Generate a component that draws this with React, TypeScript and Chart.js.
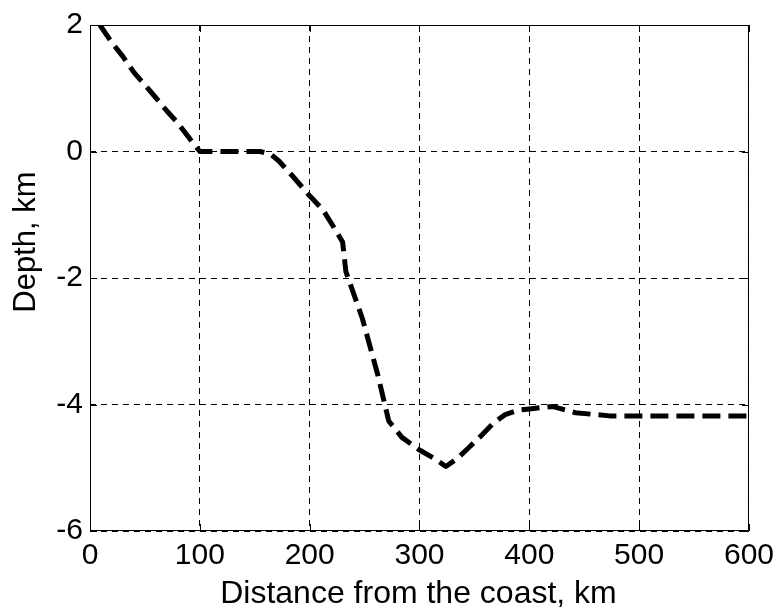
import React, { useEffect, useRef } from "react";
import { Chart, registerables } from "chart.js";

Chart.register(...registerables);

const distanceKm = [9, 20, 30, 40, 50, 60, 70, 80, 90, 100, 155, 165, 172, 184, 200, 212, 221, 230, 233, 248, 262, 272, 284, 300, 314, 324, 334, 345, 357, 367, 378, 390, 400, 421, 442, 473, 600];
const depthKm = [2, 1.72, 1.5, 1.25, 1.05, 0.85, 0.64, 0.45, 0.22, 0, 0, -0.05, -0.15, -0.38, -0.7, -0.92, -1.17, -1.43, -1.9, -2.64, -3.53, -4.26, -4.52, -4.72, -4.86, -4.98, -4.86, -4.68, -4.48, -4.3, -4.16, -4.09, -4.07, -4.03, -4.13, -4.18, -4.18];

const xTicks = [0, 100, 200, 300, 400, 500, 600];
const yTicks = [2, 0, -2, -4, -6];

const xTitle = "Distance from the coast, km";
const yTitle = "Depth, km";

const FONT = "'Liberation Sans', Arial, Helvetica, sans-serif";

const framePlugin = {
  id: "matlabFrame",
  afterDraw(chart: any) {
    const { ctx, chartArea } = chart;
    const { left, right, top, bottom } = chartArea;
    const xs = chart.scales.x;
    const ys = chart.scales.y;
    ctx.save();
    ctx.setLineDash([]);
    ctx.strokeStyle = "#000";
    ctx.lineWidth = 1;
    ctx.beginPath();
    ctx.rect(left + 0.5, top + 0.5, right - left - 1, bottom - top - 1);
    ctx.stroke();
    const tl = 7;
    ctx.beginPath();
    for (const v of xTicks) {
      const px = Math.round(xs.getPixelForValue(v)) + 0.5;
      ctx.moveTo(px, bottom);
      ctx.lineTo(px, bottom - tl);
      ctx.moveTo(px, top);
      ctx.lineTo(px, top + tl);
    }
    for (const v of yTicks) {
      const py = Math.round(ys.getPixelForValue(v)) + 0.5;
      ctx.moveTo(left, py);
      ctx.lineTo(left + tl, py);
      ctx.moveTo(right, py);
      ctx.lineTo(right - tl, py);
    }
    ctx.stroke();

    ctx.fillStyle = "#000";
    ctx.textAlign = "center";
    ctx.textBaseline = "alphabetic";
    ctx.font = `32px ${FONT}`;
    ctx.fillText(xTitle, (left + right) / 2 - 1, 603);

    ctx.translate(35, 242);
    ctx.rotate(-Math.PI / 2);
    ctx.font = `31px ${FONT}`;
    ctx.fillText(yTitle, 0, 0);
    ctx.restore();
  },
};

export default function App() {
  const ref = useRef<HTMLCanvasElement | null>(null);

  useEffect(() => {
    if (!ref.current) return;
    const points = distanceKm.map((d, i) => ({ x: d, y: depthKm[i] }));
    const chart = new Chart(ref.current, {
      type: "line",
      data: {
        datasets: [
          {
            data: points,
            borderColor: "#000",
            borderWidth: 5,
            borderDash: [18, 8],
            borderCapStyle: "butt",
            borderJoinStyle: "round",
            pointRadius: 0,
            fill: false,
            tension: 0,
          },
        ],
      },
      options: {
        animation: false,
        responsive: false,
        maintainAspectRatio: false,
        events: [],
        layout: { padding: { left: 0, top: 23, right: 30, bottom: 0 } },
        plugins: {
          legend: { display: false },
          tooltip: { enabled: false },
          title: { display: false },
        },
        scales: {
          x: {
            type: "linear",
            min: 0,
            max: 600,
            afterBuildTicks: (s: any) => {
              s.ticks = xTicks.map((v) => ({ value: v }));
            },
            afterFit: (s: any) => {
              s.height = 78;
            },
            ticks: {
              color: "#000",
              font: { family: FONT, size: 30 },
              padding: 7,
              maxRotation: 0,
              autoSkip: false,
            },
            grid: {
              color: "#000",
              lineWidth: 1,
              drawTicks: false,
            },
            border: { display: false, dash: [6, 5] },
          },
          y: {
            type: "linear",
            min: -6,
            max: 2,
            afterBuildTicks: (s: any) => {
              s.ticks = yTicks.map((v) => ({ value: v }));
            },
            afterFit: (s: any) => {
              s.width = 90;
            },
            ticks: {
              color: "#000",
              font: { family: FONT, size: 30 },
              padding: 7,
              autoSkip: false,
            },
            grid: {
              color: "#000",
              lineWidth: 1,
              drawTicks: false,
            },
            border: { display: false, dash: [6, 5] },
          },
        },
      },
      plugins: [framePlugin],
    });
    return () => chart.destroy();
  }, []);

  return (
    <div style={{ position: "fixed", left: 0, top: 0, width: 781, height: 609, background: "#fff" }}>
      <canvas ref={ref} width={781} height={609} style={{ display: "block", width: 781, height: 609 }} />
    </div>
  );
}
